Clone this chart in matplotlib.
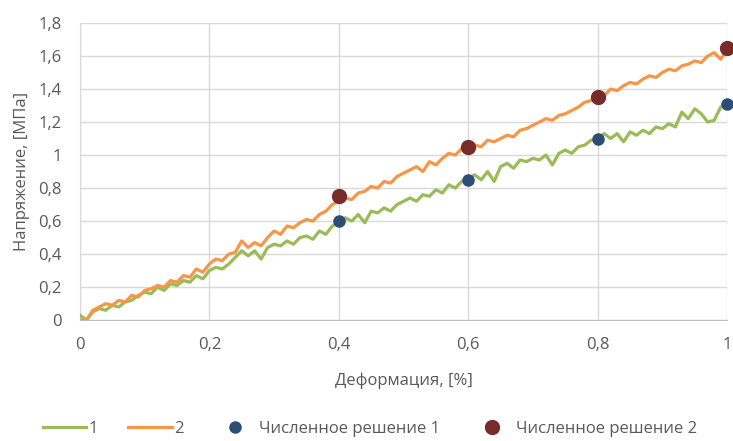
import numpy as np
import matplotlib.pyplot as plt

plt.rcParams['font.family'] = ['Open Sans', 'DejaVu Sans']

# деформация, %
strain = np.round(np.arange(0, 101) * 0.01, 2)

# эксперимент 1, МПа
stress_1 = [
    0.03, 0.00, 0.05, 0.07, 0.06, 0.09, 0.08, 0.11, 0.12, 0.15,
    0.17, 0.16, 0.20, 0.18, 0.22, 0.21, 0.24, 0.23, 0.27, 0.25,
    0.30, 0.32, 0.31, 0.34, 0.38, 0.42, 0.39, 0.42, 0.37, 0.44,
    0.46, 0.45, 0.48, 0.46, 0.50, 0.51, 0.49, 0.54, 0.52, 0.57,
    0.59, 0.62, 0.60, 0.64, 0.59, 0.66, 0.65, 0.68, 0.66, 0.70,
    0.72, 0.74, 0.72, 0.76, 0.75, 0.79, 0.77, 0.82, 0.80, 0.84,
    0.86, 0.88, 0.85, 0.90, 0.84, 0.93, 0.95, 0.92, 0.97, 0.96,
    0.98, 0.97, 1.00, 0.94, 1.01, 1.03, 1.01, 1.05, 1.06, 1.09,
    1.10, 1.13, 1.10, 1.13, 1.08, 1.14, 1.12, 1.15, 1.13, 1.17,
    1.16, 1.19, 1.17, 1.26, 1.22, 1.28, 1.25, 1.20, 1.21, 1.29,
    1.31,
]

# эксперимент 2, МПа
stress_2 = [
    0.00, 0.00, 0.06, 0.08, 0.10, 0.09, 0.12, 0.11, 0.15, 0.14,
    0.18, 0.19, 0.21, 0.20, 0.24, 0.23, 0.27, 0.26, 0.31, 0.29,
    0.34, 0.37, 0.36, 0.40, 0.41, 0.48, 0.44, 0.47, 0.45, 0.50,
    0.54, 0.52, 0.57, 0.56, 0.59, 0.61, 0.60, 0.64, 0.66, 0.70,
    0.72, 0.74, 0.73, 0.77, 0.78, 0.81, 0.80, 0.84, 0.83, 0.87,
    0.89, 0.91, 0.93, 0.90, 0.96, 0.94, 0.98, 1.01, 1.00, 1.04,
    1.04, 1.06, 1.05, 1.09, 1.08, 1.10, 1.12, 1.11, 1.15, 1.16,
    1.18, 1.20, 1.22, 1.21, 1.24, 1.25, 1.27, 1.29, 1.32, 1.33,
    1.35, 1.36, 1.40, 1.39, 1.42, 1.44, 1.43, 1.46, 1.48, 1.47,
    1.50, 1.52, 1.51, 1.54, 1.55, 1.57, 1.56, 1.60, 1.62, 1.58,
    1.64,
]

# численное решение
num_x = [0.4, 0.6, 0.8, 1.0]
num_1 = [0.60, 0.85, 1.10, 1.31]
num_2 = [0.75, 1.05, 1.35, 1.65]

x_ticks = [0, 0.2, 0.4, 0.6, 0.8, 1.0]
x_labels = ['0', '0,2', '0,4', '0,6', '0,8', '1']
y_ticks = [0, 0.2, 0.4, 0.6, 0.8, 1.0, 1.2, 1.4, 1.6, 1.8]
y_labels = ['0', '0,2', '0,4', '0,6', '0,8', '1', '1,2', '1,4', '1,6', '1,8']

fig = plt.figure(figsize=(7.33, 4.41), dpi=100)
ax = fig.add_axes([0.109, 0.274, 0.883, 0.674])

ax.plot(strain, stress_1, color='#9BBB59', lw=2.3, label='1', zorder=3)
ax.plot(strain, stress_2, color='#F79646', lw=2.3, label='2', zorder=3)
ax.plot(num_x, num_1, 'o', color='#2C4D75', ms=8, label='Численное решение 1',
        zorder=4, clip_on=False)
ax.plot(num_x, num_2, 'o', color='#772C2A', ms=10, label='Численное решение 2',
        zorder=4, clip_on=False)

ax.set_xlim(0, 1)
ax.set_ylim(0, 1.8)
ax.set_xticks(x_ticks)
ax.set_xticklabels(x_labels)
ax.set_yticks(y_ticks)
ax.set_yticklabels(y_labels)
ax.tick_params(length=0, labelsize=12, labelcolor='#595959')
ax.tick_params(axis='x', pad=12)
ax.tick_params(axis='y', pad=13)
ax.grid(True, color='#D9D9D9', lw=1)
ax.set_axisbelow(True)
for side in ['top', 'right']:
    ax.spines[side].set_visible(False)
ax.spines['left'].set_color('#D9D9D9')
ax.spines['bottom'].set_color('#BFBFBF')

ax.set_xlabel('Деформация, [%]', fontsize=12, color='#595959', labelpad=14)
ax.set_ylabel('Напряжение, [МПа]', fontsize=12, color='#595959', labelpad=6)

leg = fig.legend(loc='lower center', bbox_to_anchor=(0.505, -0.025), ncol=4,
                 frameon=False, fontsize=12, handlelength=2.6,
                 columnspacing=1.8, handletextpad=0.15)
for t in leg.get_texts():
    t.set_color('#595959')

fig.savefig('out.png', dpi=100)
